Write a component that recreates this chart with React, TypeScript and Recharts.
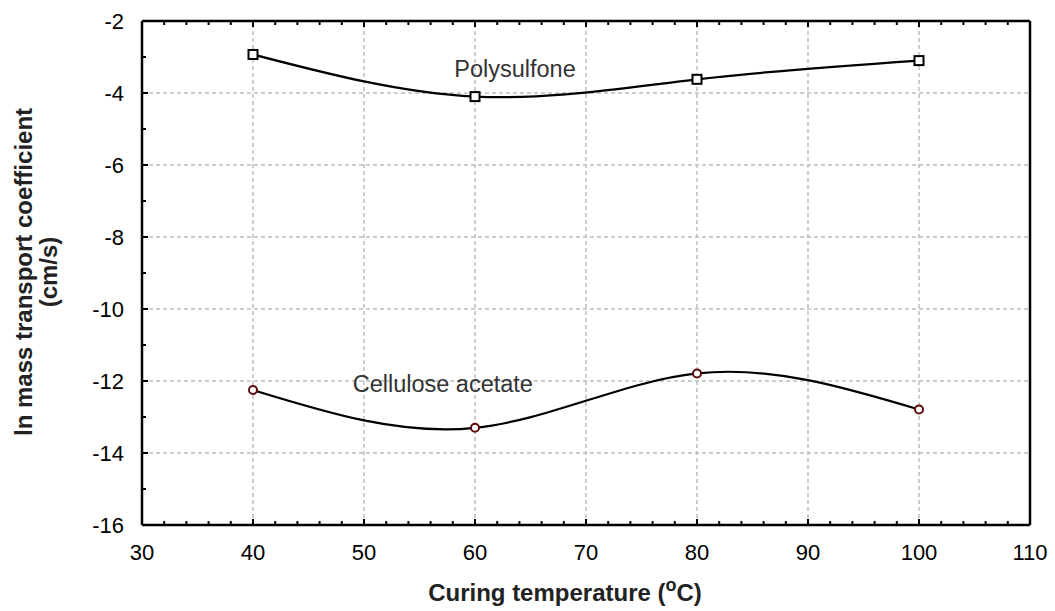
import { LineChart, Line, XAxis, YAxis, ReferenceLine, ReferenceDot } from 'recharts';

const temps = [40, 60, 80, 100];
const polysulfone = [-2.93, -4.1, -3.62, -3.1];
const celluloseAcetate = [-12.25, -13.3, -11.79, -12.79];

const xMajorTicks = [30, 40, 50, 60, 70, 80, 90, 100, 110];
const yMajorTicks = [-16, -14, -12, -10, -8, -6, -4, -2];
const xGridLines = [40, 50, 60, 70, 80, 90, 100];
const yGridLines = [-14, -12, -10, -8, -6, -4];

// minor ticks every 2 on x, every 1 on y
const xAllTicks = Array.from({ length: 41 }, (_, i) => 30 + i * 2);
const yAllTicks = Array.from({ length: 15 }, (_, i) => -16 + i);

const data = temps.map((t, i) => ({
    temp: t,
    polysulfone: polysulfone[i],
    cellulose: celluloseAcetate[i],
}));

const FONT = 'Liberation Sans, Arial, sans-serif';
const GRID = '#bdbdbd';
const TINY = 0.001;

const isMajorX = (v: number) => xMajorTicks.includes(v);
const isMajorY = (v: number) => yMajorTicks.includes(v);

const BottomTick = (props: any) => {
    const { x, y, payload } = props;
    const major = isMajorX(payload.value);
    return (
        <g>
            <line x1={x} x2={x} y1={y} y2={y - (major ? 6 : 4)} stroke="#000" strokeWidth={2} />
            {major && (
                <text x={x} y={y + 35} textAnchor="middle" fontSize={22} fontFamily={FONT} fill="#000">
                    {payload.value}
                </text>
            )}
        </g>
    );
};

const TopTick = (props: any) => {
    const { x, y, payload } = props;
    const major = isMajorX(payload.value);
    return <line x1={x} x2={x} y1={y} y2={y + (major ? 6 : 4)} stroke="#000" strokeWidth={2} />;
};

const LeftTick = (props: any) => {
    const { x, y, payload } = props;
    const major = isMajorY(payload.value);
    return (
        <g>
            <line x1={x} x2={x + (major ? 6 : 4)} y1={y} y2={y} stroke="#000" strokeWidth={2} />
            {major && (
                <text x={x - 18} y={y + 8} textAnchor="end" fontSize={22} fontFamily={FONT} fill="#000">
                    {payload.value}
                </text>
            )}
        </g>
    );
};

const RightTick = (props: any) => {
    const { x, y, payload } = props;
    const major = isMajorY(payload.value);
    return <line x1={x} x2={x - (major ? 6 : 4)} y1={y} y2={y} stroke="#000" strokeWidth={2} />;
};

const SquareDot = (props: any) => {
    const { cx, cy } = props;
    return <rect x={cx - 4.5} y={cy - 4.5} width={9} height={9} fill="#fff" stroke="#000" strokeWidth={2} />;
};

const CircleDot = (props: any) => {
    const { cx, cy } = props;
    return <circle cx={cx} cy={cy} r={4} fill="#fff" stroke="#5c0a0a" strokeWidth={2} />;
};

const axisLine = { stroke: '#000', strokeWidth: 2.5 };

export default function App() {
    return (
        <div style={{ position: 'absolute', left: 0, top: 0, width: 1055, height: 611, background: '#fff' }}>
            <LineChart width={1055} height={611} data={data} margin={{ top: 20, right: 24, left: 0, bottom: 0 }}>
                {xGridLines.map((v) => (
                    <ReferenceLine key={'gx' + v} xAxisId="b" yAxisId="l" x={v} stroke={GRID} strokeWidth={1.5} strokeDasharray="4 3" />
                ))}
                {yGridLines.map((v) => (
                    <ReferenceLine key={'gy' + v} xAxisId="b" yAxisId="l" y={v} stroke={GRID} strokeWidth={1.5} strokeDasharray="4 3" />
                ))}
                <XAxis
                    xAxisId="b"
                    dataKey="temp"
                    type="number"
                    domain={[30, 110]}
                    ticks={xAllTicks}
                    interval={0}
                    height={86}
                    tickSize={TINY}
                    tickMargin={TINY}
                    tickLine={false}
                    axisLine={axisLine}
                    tick={<BottomTick />}
                />
                <XAxis
                    xAxisId="t"
                    orientation="top"
                    dataKey="temp"
                    type="number"
                    domain={[30, 110]}
                    ticks={xAllTicks}
                    interval={0}
                    height={1}
                    tickSize={TINY}
                    tickMargin={TINY}
                    tickLine={false}
                    axisLine={axisLine}
                    tick={<TopTick />}
                />
                <YAxis
                    yAxisId="l"
                    type="number"
                    domain={[-16, -2]}
                    ticks={yAllTicks}
                    interval={0}
                    width={142}
                    tickSize={TINY}
                    tickMargin={TINY}
                    tickLine={false}
                    axisLine={axisLine}
                    tick={<LeftTick />}
                />
                <YAxis
                    yAxisId="r"
                    orientation="right"
                    type="number"
                    domain={[-16, -2]}
                    ticks={yAllTicks}
                    interval={0}
                    width={1}
                    tickSize={TINY}
                    tickMargin={TINY}
                    tickLine={false}
                    axisLine={axisLine}
                    tick={<RightTick />}
                />
                <Line
                    xAxisId="b"
                    yAxisId="l"
                    type="natural"
                    dataKey="polysulfone"
                    stroke="#000"
                    strokeWidth={2.2}
                    dot={<SquareDot />}
                    activeDot={false}
                    isAnimationActive={false}
                />
                <Line
                    xAxisId="b"
                    yAxisId="l"
                    type="natural"
                    dataKey="cellulose"
                    stroke="#000"
                    strokeWidth={2.2}
                    dot={<CircleDot />}
                    activeDot={false}
                    isAnimationActive={false}
                />
                <ReferenceDot
                    xAxisId="b"
                    yAxisId="l"
                    x={63.6}
                    y={-3.33}
                    r={0}
                    fill="none"
                    stroke="none"
                    label={{ value: 'Polysulfone', position: 'center', fontSize: 23.5, fontFamily: FONT, fill: '#333' }}
                />
                <ReferenceDot
                    xAxisId="b"
                    yAxisId="l"
                    x={57.1}
                    y={-12.06}
                    r={0}
                    fill="none"
                    stroke="none"
                    label={{ value: 'Cellulose acetate', position: 'center', fontSize: 23.5, fontFamily: FONT, fill: '#333' }}
                />
                <text x={565} y={601} textAnchor="middle" fontSize={24} fontWeight="bold" fontFamily={FONT} fill="#222">
                    Curing temperature (
                    <tspan dy={-10} fontSize={18}>o</tspan>
                    <tspan dy={10}>C)</tspan>
                </text>
                <text
                    transform="translate(32, 272) rotate(-90)"
                    textAnchor="middle"
                    fontSize={24}
                    fontWeight="bold"
                    fontFamily={FONT}
                    fill="#222"
                >
                    ln mass transport coefficient
                </text>
                <text
                    transform="translate(57, 272) rotate(-90)"
                    textAnchor="middle"
                    fontSize={24}
                    fontWeight="bold"
                    fontFamily={FONT}
                    fill="#222"
                >
                    (cm/s)
                </text>
            </LineChart>
        </div>
    );
}
